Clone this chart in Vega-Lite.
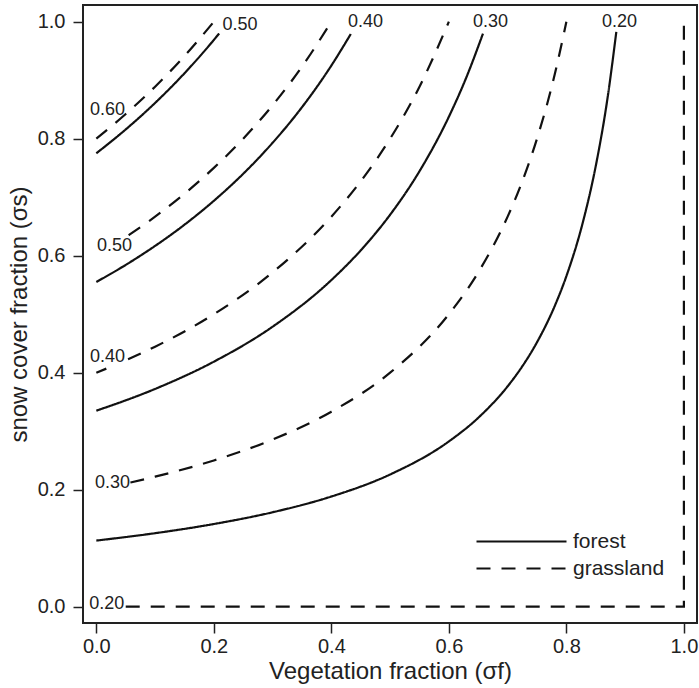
{
  "$schema": "https://vega.github.io/schema/vega-lite/v6.json",
  "autosize": "none",
  "width": 614,
  "height": 618,
  "padding": {"left": 83, "top": 5, "right": 2, "bottom": 65},
  "background": "white",
  "config": {
    "font": "Liberation Sans",
    "view": {"stroke": "#222", "strokeWidth": 2},
    "axis": {
      "domain": false, "grid": false,
      "tickColor": "#222", "tickWidth": 1.5, "tickSize": 10,
      "labelFontSize": 20, "labelColor": "#222", "labelFont": "Liberation Sans",
      "titleFontSize": 24, "titleFontWeight": "normal", "titleColor": "#222", "titleFont": "Liberation Sans"
    },
    "legend": {
      "labelFont": "Liberation Sans"
    }
  },
  "datasets": {
    "curves": [
      {"line": "f20", "type": "forest", "veg": 0, "snow": 0.113},
      {"line": "f20", "type": "forest", "veg": 0.1, "snow": 0.1256},
      {"line": "f20", "type": "forest", "veg": 0.2, "snow": 0.1413},
      {"line": "f20", "type": "forest", "veg": 0.3, "snow": 0.1614},
      {"line": "f20", "type": "forest", "veg": 0.4, "snow": 0.1883},
      {"line": "f20", "type": "forest", "veg": 0.5, "snow": 0.226},
      {"line": "f20", "type": "forest", "veg": 0.6, "snow": 0.2825},
      {"line": "f20", "type": "forest", "veg": 0.65, "snow": 0.3229},
      {"line": "f20", "type": "forest", "veg": 0.7, "snow": 0.3767},
      {"line": "f20", "type": "forest", "veg": 0.72, "snow": 0.4036},
      {"line": "f20", "type": "forest", "veg": 0.75, "snow": 0.452},
      {"line": "f20", "type": "forest", "veg": 0.78, "snow": 0.5136},
      {"line": "f20", "type": "forest", "veg": 0.8, "snow": 0.565},
      {"line": "f20", "type": "forest", "veg": 0.83, "snow": 0.6647},
      {"line": "f20", "type": "forest", "veg": 0.85, "snow": 0.7533},
      {"line": "f20", "type": "forest", "veg": 0.87, "snow": 0.8692},
      {"line": "f20", "type": "forest", "veg": 0.885, "snow": 0.9826},
      {"line": "f30", "type": "forest", "veg": 0, "snow": 0.335},
      {"line": "f30", "type": "forest", "veg": 0.1, "snow": 0.3722},
      {"line": "f30", "type": "forest", "veg": 0.2, "snow": 0.4188},
      {"line": "f30", "type": "forest", "veg": 0.3, "snow": 0.4786},
      {"line": "f30", "type": "forest", "veg": 0.4, "snow": 0.5583},
      {"line": "f30", "type": "forest", "veg": 0.45, "snow": 0.6091},
      {"line": "f30", "type": "forest", "veg": 0.5, "snow": 0.67},
      {"line": "f30", "type": "forest", "veg": 0.55, "snow": 0.7444},
      {"line": "f30", "type": "forest", "veg": 0.6, "snow": 0.8375},
      {"line": "f30", "type": "forest", "veg": 0.63, "snow": 0.9054},
      {"line": "f30", "type": "forest", "veg": 0.658, "snow": 0.9795},
      {"line": "f40", "type": "forest", "veg": 0, "snow": 0.555},
      {"line": "f40", "type": "forest", "veg": 0.05, "snow": 0.5842},
      {"line": "f40", "type": "forest", "veg": 0.1, "snow": 0.6167},
      {"line": "f40", "type": "forest", "veg": 0.15, "snow": 0.6529},
      {"line": "f40", "type": "forest", "veg": 0.2, "snow": 0.6938},
      {"line": "f40", "type": "forest", "veg": 0.25, "snow": 0.74},
      {"line": "f40", "type": "forest", "veg": 0.3, "snow": 0.7929},
      {"line": "f40", "type": "forest", "veg": 0.35, "snow": 0.8538},
      {"line": "f40", "type": "forest", "veg": 0.4, "snow": 0.925},
      {"line": "f40", "type": "forest", "veg": 0.433, "snow": 0.9788},
      {"line": "f50", "type": "forest", "veg": 0, "snow": 0.775},
      {"line": "f50", "type": "forest", "veg": 0.05, "snow": 0.8158},
      {"line": "f50", "type": "forest", "veg": 0.1, "snow": 0.8611},
      {"line": "f50", "type": "forest", "veg": 0.15, "snow": 0.9118},
      {"line": "f50", "type": "forest", "veg": 0.2, "snow": 0.9688},
      {"line": "f50", "type": "forest", "veg": 0.209, "snow": 0.9798},
      {"line": "g30", "type": "grassland", "veg": 0.058, "snow": 0.2123},
      {"line": "g30", "type": "grassland", "veg": 0.1, "snow": 0.2222},
      {"line": "g30", "type": "grassland", "veg": 0.2, "snow": 0.25},
      {"line": "g30", "type": "grassland", "veg": 0.3, "snow": 0.2857},
      {"line": "g30", "type": "grassland", "veg": 0.4, "snow": 0.3333},
      {"line": "g30", "type": "grassland", "veg": 0.5, "snow": 0.4},
      {"line": "g30", "type": "grassland", "veg": 0.6, "snow": 0.5},
      {"line": "g30", "type": "grassland", "veg": 0.65, "snow": 0.5714},
      {"line": "g30", "type": "grassland", "veg": 0.7, "snow": 0.6667},
      {"line": "g30", "type": "grassland", "veg": 0.72, "snow": 0.7143},
      {"line": "g30", "type": "grassland", "veg": 0.75, "snow": 0.8},
      {"line": "g30", "type": "grassland", "veg": 0.78, "snow": 0.9091},
      {"line": "g30", "type": "grassland", "veg": 0.8, "snow": 1.0},
      {"line": "g40a", "type": "grassland", "veg": 0, "snow": 0.4},
      {"line": "g40a", "type": "grassland", "veg": 0.017, "snow": 0.4069},
      {"line": "g40b", "type": "grassland", "veg": 0.054, "snow": 0.4228},
      {"line": "g40b", "type": "grassland", "veg": 0.1, "snow": 0.4444},
      {"line": "g40b", "type": "grassland", "veg": 0.2, "snow": 0.5},
      {"line": "g40b", "type": "grassland", "veg": 0.3, "snow": 0.5714},
      {"line": "g40b", "type": "grassland", "veg": 0.4, "snow": 0.6667},
      {"line": "g40b", "type": "grassland", "veg": 0.45, "snow": 0.7273},
      {"line": "g40b", "type": "grassland", "veg": 0.5, "snow": 0.8},
      {"line": "g40b", "type": "grassland", "veg": 0.55, "snow": 0.8889},
      {"line": "g40b", "type": "grassland", "veg": 0.6, "snow": 1.0},
      {"line": "g50", "type": "grassland", "veg": 0.055, "snow": 0.6349},
      {"line": "g50", "type": "grassland", "veg": 0.1, "snow": 0.6667},
      {"line": "g50", "type": "grassland", "veg": 0.15, "snow": 0.7059},
      {"line": "g50", "type": "grassland", "veg": 0.2, "snow": 0.75},
      {"line": "g50", "type": "grassland", "veg": 0.25, "snow": 0.8},
      {"line": "g50", "type": "grassland", "veg": 0.3, "snow": 0.8571},
      {"line": "g50", "type": "grassland", "veg": 0.35, "snow": 0.9231},
      {"line": "g50", "type": "grassland", "veg": 0.4, "snow": 1.0},
      {"line": "g60", "type": "grassland", "veg": 0, "snow": 0.8},
      {"line": "g60", "type": "grassland", "veg": 0.05, "snow": 0.8421},
      {"line": "g60", "type": "grassland", "veg": 0.1, "snow": 0.8889},
      {"line": "g60", "type": "grassland", "veg": 0.15, "snow": 0.9412},
      {"line": "g60", "type": "grassland", "veg": 0.2, "snow": 1.0}
    ],
    "edge": [
      {"line": "g20", "type": "grassland", "o": 0, "veg": 0.05, "snow": 0},
      {"line": "g20", "type": "grassland", "o": 1, "veg": 1.0, "snow": 0},
      {"line": "g20", "type": "grassland", "o": 2, "veg": 1.0, "snow": 1.0}
    ],
    "labels": [
      {"label": "0.60", "veg": 0.0191, "snow": 0.849},
      {"label": "0.50", "veg": 0.031, "snow": 0.617},
      {"label": "0.40", "veg": 0.0191, "snow": 0.426},
      {"label": "0.30", "veg": 0.0276, "snow": 0.2111},
      {"label": "0.20", "veg": 0.0177, "snow": 0.0043},
      {"label": "0.50", "veg": 0.2446, "snow": 0.995},
      {"label": "0.40", "veg": 0.458, "snow": 0.9986},
      {"label": "0.30", "veg": 0.6709, "snow": 0.9986},
      {"label": "0.20", "veg": 0.8904, "snow": 0.9986}
    ]
  },
  "encoding": {
    "x": {
      "field": "veg", "type": "quantitative",
      "scale": {"domain": [-0.0227, 1.0223], "nice": false, "zero": false},
      "axis": {"values": [0, 0.2, 0.4, 0.6, 0.8, 1.0], "format": ".1f", "labelPadding": 3, "titlePadding": 3, "title": "Vegetation fraction (σf)"}
    },
    "y": {
      "field": "snow", "type": "quantitative",
      "scale": {"domain": [-0.0279, 1.0285], "nice": false, "zero": false},
      "axis": {"values": [0, 0.2, 0.4, 0.6, 0.8, 1.0], "format": ".1f", "labelPadding": 8, "titlePadding": 6, "title": "snow cover fraction (σs)"}
    }
  },
  "layer": [
    {
      "data": {"name": "curves"},
      "mark": {"type": "line", "interpolate": "monotone", "color": "#111", "strokeWidth": 2.2},
      "encoding": {
        "detail": {"field": "line"},
        "strokeDash": {
          "field": "type", "type": "nominal",
          "scale": {"domain": ["forest", "grassland"], "range": [[1, 0], [14, 11]]},
          "legend": {
            "title": null, "orient": "none", "legendX": 392, "legendY": 526, "padding": 0,
            "symbolType": "M0,0H10", "symbolSize": 324, "symbolOffset": -9,
            "symbolStrokeWidth": 2.2, "symbolStrokeColor": "#111",
            "labelFontSize": 21, "labelColor": "#222", "labelOffset": 86, "rowPadding": 5
          }
        }
      }
    },
    {
      "data": {"name": "edge"},
      "mark": {"type": "line", "interpolate": "linear", "color": "#111", "strokeWidth": 2.2},
      "encoding": {
        "order": {"field": "o"},
        "detail": {"field": "line"},
        "strokeDash": {"field": "type", "type": "nominal"}
      }
    },
    {
      "data": {"name": "labels"},
      "mark": {"type": "text", "fontSize": 18, "color": "#222", "align": "center", "baseline": "middle", "font": "Liberation Sans"},
      "encoding": {
        "text": {"field": "label"}
      }
    }
  ]
}
